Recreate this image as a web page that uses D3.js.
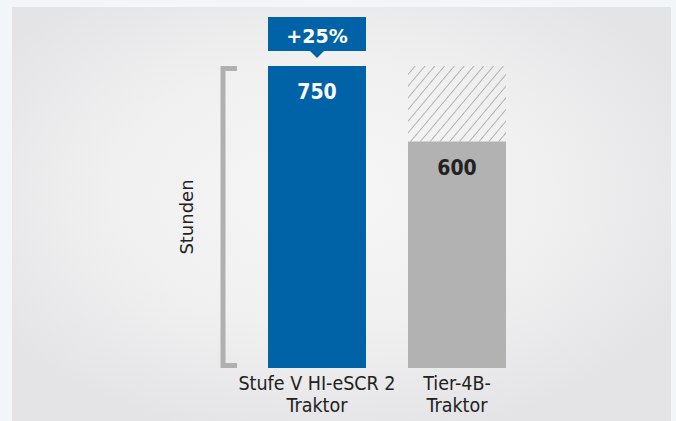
<!DOCTYPE html>
<html>
<head>
<meta charset="utf-8">
<script src="https://cdn.jsdelivr.net/npm/d3@7"></script>
<style>
  body { margin: 0; background: #f3f6f8; }
  svg { display: block; }
</style>
</head>
<body>
<div id="root"></div>
<script>
// chart data
const categories = ["Stufe V HI-eSCR 2 Traktor", "Tier-4B- Traktor"];
const labelLines = [["Stufe V HI-eSCR 2", "Traktor"], ["Tier-4B-", "Traktor"]];
const hours = [750, 600];
const gainLabel = "+25%";
const axisTitle = "Stunden";

const width = 676,
  height = 421,
  margin = { left: 268, top: 66, right: 170, bottom: 53 };

const condensed = "'Liberation Sans Narrow', 'DejaVu Sans Condensed', sans-serif";

const svg = d3.select("#root")
  .append("svg")
  .attr("width", width)
  .attr("height", height)
  .attr("viewBox", [0, 0, width, height]);

const defs = svg.append("defs");

// soft light panel behind the chart
const grad = defs.append("radialGradient")
  .attr("id", "panelGrad")
  .attr("cx", "0.48").attr("cy", "0.45").attr("r", "0.6");
grad.append("stop").attr("offset", "0%").attr("stop-color", "#f7f6f6");
grad.append("stop").attr("offset", "55%").attr("stop-color", "#f1f0f1");
grad.append("stop").attr("offset", "100%").attr("stop-color", "#e4e3e5");

const hatch = defs.append("pattern")
  .attr("id", "hatch")
  .attr("patternUnits", "userSpaceOnUse")
  .attr("width", 7.5).attr("height", 7.5)
  .attr("patternTransform", "rotate(40)");
hatch.append("line")
  .attr("x1", 0).attr("y1", 0).attr("x2", 0).attr("y2", 7.5)
  .attr("stroke", "#a0a0a0").attr("stroke-width", 1.5);

svg.append("rect")
  .attr("x", 12).attr("y", 7)
  .attr("width", 659).attr("height", height - 7)
  .attr("fill", "url(#panelGrad)");

// axis is cut off below, the bars do not start at zero in the original
const xScale = d3.scaleBand()
  .domain(categories)
  .range([margin.left, width - margin.right])
  .paddingInner(0.3)
  .paddingOuter(0);

const yScale = d3.scaleLinear()
  .domain([150, d3.max(hours)])
  .range([height - margin.bottom, margin.top]);

const data = categories.map((c, i) => ({ category: c, value: hours[i], lines: labelLines[i] }));
const maxValue = d3.max(hours);

// hatched remainder above the smaller bar
svg.selectAll("rect.rest")
  .data(data.filter((d) => d.value < maxValue))
  .enter()
  .append("rect")
  .attr("class", "rest")
  .attr("x", (d) => xScale(d.category))
  .attr("y", yScale(maxValue))
  .attr("width", xScale.bandwidth())
  .attr("height", (d) => yScale(d.value) - yScale(maxValue))
  .attr("fill", "url(#hatch)");

svg.selectAll("rect.bar")
  .data(data)
  .enter()
  .append("rect")
  .attr("class", "bar")
  .attr("x", (d) => xScale(d.category))
  .attr("y", (d) => yScale(d.value))
  .attr("width", xScale.bandwidth())
  .attr("height", (d) => yScale.range()[0] - yScale(d.value))
  .attr("fill", (d, i) => i === 0 ? "#0063a8" : "#b2b2b2");

// value labels inside the bars
svg.selectAll("text.value")
  .data(data)
  .enter()
  .append("text")
  .attr("class", "value")
  .attr("x", (d) => xScale(d.category) + xScale.bandwidth() / 2)
  .attr("y", (d) => yScale(d.value) + 33)
  .attr("text-anchor", "middle")
  .attr("font-family", condensed)
  .attr("font-weight", "bold")
  .attr("font-size", 21)
  .attr("fill", (d, i) => i === 0 ? "#ffffff" : "#222222")
  .text((d) => d.value);

// +25% callout above the first bar
const first = data[0];
const bx = xScale(first.category), bw = xScale.bandwidth();
const callout = svg.append("g").attr("class", "callout");
callout.append("rect")
  .attr("x", bx).attr("y", 17)
  .attr("width", bw).attr("height", 34)
  .attr("fill", "#0063a8");
callout.append("path")
  .attr("d", `M${bx + bw / 2 - 7},51 L${bx + bw / 2 + 7},51 L${bx + bw / 2},58 Z`)
  .attr("fill", "#0063a8");
callout.append("text")
  .attr("x", bx + bw / 2).attr("y", 43)
  .attr("text-anchor", "middle")
  .attr("font-family", "'DejaVu Sans', sans-serif")
  .attr("font-weight", "bold")
  .attr("font-size", 19)
  .attr("fill", "#ffffff")
  .text(gainLabel);

// bracket standing in for the y axis
const [yBottom, yTop] = yScale.range();
svg.append("path")
  .attr("d", `M237,${yTop + 2.5} H223 V${yBottom - 2.5} H237`)
  .attr("fill", "none")
  .attr("stroke", "#b0b0b0")
  .attr("stroke-width", 5);

svg.append("text")
  .attr("transform", `translate(193, ${(yTop + yBottom) / 2}) rotate(-90)`)
  .attr("text-anchor", "middle")
  .attr("font-family", "'DejaVu Sans', sans-serif")
  .attr("font-size", 18)
  .attr("fill", "#222222")
  .text(axisTitle);

// category labels
const labels = svg.selectAll("text.cat")
  .data(data)
  .enter()
  .append("text")
  .attr("class", "cat")
  .attr("text-anchor", "middle")
  .attr("font-family", condensed)
  .attr("font-size", 19.5)
  .attr("fill", "#222222");

labels.selectAll("tspan")
  .data((d) => d.lines.map((l) => ({ l, x: xScale(d.category) + xScale.bandwidth() / 2 })))
  .enter()
  .append("tspan")
  .attr("x", (d) => d.x)
  .attr("y", (d, i) => 390 + i * 22)
  .text((d) => d.l);
</script>
</body>
</html>
